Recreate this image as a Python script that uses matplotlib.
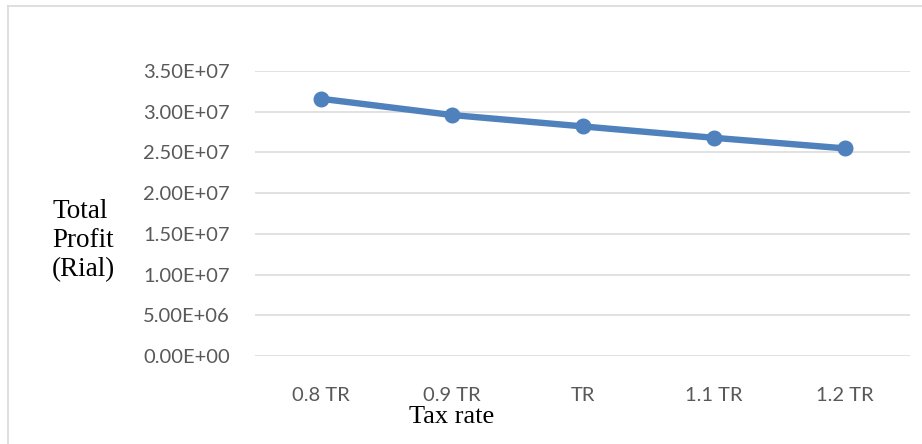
import matplotlib
matplotlib.use("Agg")
import matplotlib.pyplot as plt
from matplotlib.lines import Line2D
from matplotlib.ticker import FuncFormatter

# Chart data
categories = ["0.8 TR", "0.9 TR", "TR", "1.1 TR", "1.2 TR"]
total_profit = [3.16e7, 2.96e7, 2.82e7, 2.68e7, 2.55e7]
y_ticks = [0, 5e6, 1e7, 1.5e7, 2e7, 2.5e7, 3e7, 3.5e7]

W, H, DPI = 922, 444, 100
fig = plt.figure(figsize=(W / DPI, H / DPI), dpi=DPI)
fig.patch.set_facecolor("white")

ax = fig.add_axes([255 / W, 1 - 356 / H, (910 - 255) / W, (356 - 71) / H])

x = list(range(len(categories)))
ax.plot(x, total_profit, color="#4F81BD", linewidth=4.6, marker="o",
        markersize=10.5, solid_capstyle="round", zorder=3)

ax.set_xlim(-0.5, len(categories) - 0.5)
ax.set_ylim(0, 3.5e7)
ax.set_yticks(y_ticks)
ax.yaxis.set_major_formatter(FuncFormatter(lambda v, p: f"{v:.2E}"))
ax.set_xticks(x)
ax.set_xticklabels(categories)

ax.grid(axis="y", color="#D9D9D9", linewidth=1.1)
ax.set_axisbelow(True)
for s in ax.spines.values():
    s.set_visible(False)
ax.tick_params(axis="both", length=0, colors="#595959", labelsize=14.5)
ax.tick_params(axis="y", pad=18)
ax.tick_params(axis="x", pad=22)
for lbl in ax.get_xticklabels() + ax.get_yticklabels():
    lbl.set_fontfamily("Lato")

# Axis titles
fig.text(52 / W, 1 - 276 / H, "Total\nProfit\n(Rial)", ha="left", va="baseline",
         fontfamily="Liberation Serif", fontsize=19.5, color="black",
         linespacing=1.22)
fig.text(452 / W, 1 - 423 / H, "Tax rate", ha="center", va="baseline",
         fontfamily="Liberation Serif", fontsize=19, color="black")

# Chart frame
fig.add_artist(Line2D([8 / W, 8 / W], [-0.01, 1 - 6 / H], transform=fig.transFigure,
                      color="#D9D9D9", linewidth=1.2))
fig.add_artist(Line2D([8 / W, 1.01], [1 - 6 / H, 1 - 6 / H], transform=fig.transFigure,
                      color="#D9D9D9", linewidth=1.2))

fig.savefig("out.png", dpi=DPI, facecolor="white")
